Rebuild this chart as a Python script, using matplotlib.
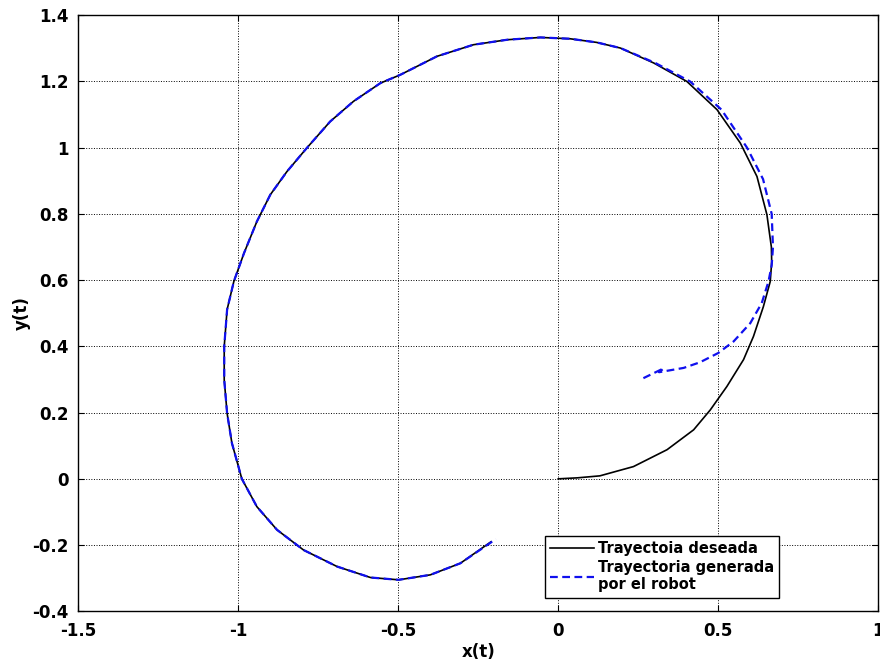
import matplotlib.pyplot as plt
import numpy as np

plt.rcParams['font.family'] = ['DejaVu Sans']
plt.rcParams['font.weight'] = 'bold'

# trayectoria deseada
xd = [0, 0.06, 0.13, 0.235, 0.34, 0.423, 0.475, 0.527, 0.579, 0.61, 0.641, 0.6625, 0.667,
      0.666, 0.652, 0.621, 0.569, 0.496, 0.402, 0.298, 0.194, 0.12, 0.037,
      -0.056, -0.16, -0.265, -0.379, -0.494, -0.556, -0.64, -0.713, -0.786, -0.848,
      -0.9, -0.942, -0.982, -1.014, -1.035, -1.044, -1.044, -1.035, -1.02, -0.989,
      -0.942, -0.879, -0.796, -0.691, -0.587, -0.499, -0.4, -0.306, -0.21]
yd = [0, 0.003, 0.009, 0.037, 0.088, 0.148, 0.208, 0.279, 0.36, 0.43, 0.52, 0.596, 0.655,
      0.70, 0.798, 0.913, 1.014, 1.115, 1.2, 1.256, 1.301, 1.318, 1.329,
      1.333, 1.326, 1.311, 1.276, 1.22, 1.195, 1.14, 1.079, 0.999, 0.928,
      0.858, 0.777, 0.682, 0.596, 0.511, 0.4, 0.299, 0.198, 0.108, 0.0,
      -0.084, -0.154, -0.215, -0.265, -0.298, -0.305, -0.29, -0.255, -0.19]

# trayectoria generada por el robot
xr = [0.266, 0.33, 0.315, 0.392, 0.443, 0.5, 0.548, 0.6, 0.636, 0.657, 0.667, 0.671,
      0.667, 0.64, 0.59, 0.51, 0.412, 0.303, 0.194, 0.12, 0.037,
      -0.056, -0.16, -0.265, -0.379, -0.494, -0.556, -0.64, -0.713, -0.786, -0.848,
      -0.9, -0.942, -0.982, -1.014, -1.035, -1.044, -1.044, -1.035, -1.02, -0.989,
      -0.942, -0.879, -0.796, -0.691, -0.587, -0.499, -0.4, -0.306, -0.195]
yr = [0.304, 0.334, 0.322, 0.335, 0.352, 0.38, 0.415, 0.47, 0.531, 0.596, 0.645, 0.70,
      0.80, 0.905, 1.0, 1.115, 1.2, 1.256, 1.301, 1.318, 1.329,
      1.333, 1.326, 1.311, 1.276, 1.22, 1.195, 1.14, 1.079, 0.999, 0.928,
      0.858, 0.777, 0.682, 0.596, 0.511, 0.4, 0.299, 0.198, 0.108, 0.0,
      -0.084, -0.154, -0.215, -0.265, -0.298, -0.305, -0.29, -0.255, -0.182]

fig = plt.figure(figsize=(8.8, 6.63), dpi=100)
ax = fig.add_axes([0.089, 0.078, 0.909, 0.899])

ax.plot(xd, yd, color='black', lw=1.2, label='Trayectoia deseada')
ax.plot(xr, yr, color='#1010ee', lw=1.6, ls=(0, (3.5, 2)),
        label='Trayectoria generada\npor el robot')

ax.set_xlim(-1.5, 1)
ax.set_ylim(-0.4, 1.4)
ax.set_xticks(np.arange(-1.5, 1.01, 0.5))
ax.set_xticklabels(['-1.5', '-1', '-0.5', '0', '0.5', '1'])
ax.set_yticks(np.arange(-0.4, 1.41, 0.2))
ax.set_yticklabels(['-0.4', '-0.2', '0', '0.2', '0.4', '0.6', '0.8', '1', '1.2', '1.4'])
ax.grid(True, color='black', ls=':', lw=0.7)
ax.tick_params(direction='in', top=True, right=True, labelsize=12, length=4)
ax.tick_params(axis='x', pad=8)
ax.tick_params(axis='y', pad=7)
for s in ax.spines.values():
    s.set_linewidth(1.0)

ax.set_xlabel('x(t)', fontsize=12, fontweight='bold', labelpad=2)
ax.set_ylabel('y(t)', fontsize=12, fontweight='bold', labelpad=1)

leg = ax.legend(loc='lower left', bbox_to_anchor=(0.583, 0.023), fontsize=10.5,
                handlelength=3.0, handletextpad=0.3, borderpad=0.35,
                labelspacing=0.25, fancybox=False, framealpha=1, borderaxespad=0)
leg.get_frame().set_edgecolor('black')
leg.get_frame().set_linewidth(1.0)

fig.savefig('out.png', dpi=100)
